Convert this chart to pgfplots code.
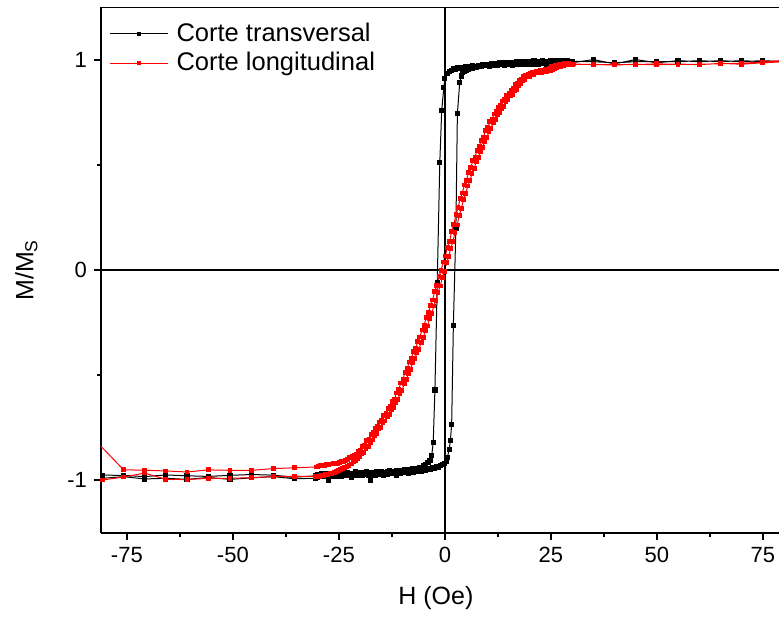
\documentclass[border=0pt]{standalone}
\usepackage{fontspec}
\setmainfont{Liberation Sans}
\usepackage{pgfplots}
\pgfplotsset{compat=1.18}
\begin{document}
\begin{tikzpicture}
\begin{axis}[
  scale only axis, width=339pt, height=263pt,
  xmin=-81.1, xmax=78.8, ymin=-1.25, ymax=1.25,
  axis x line*=bottom, axis y line*=left,
  axis line style={-, line width=1pt, black},
  xtick={-75,-50,-25,0,25,50,75}, minor x tick num=1,
  ytick={-1,0,1}, minor y tick num=1,
  tick align=outside, major tick length=3.5pt, minor tick length=2pt,
  every tick/.style={black, line width=1pt},
  /pgf/number format/assume math mode=true,
  tick label style={font=\fontsize{11}{13}\selectfont},
  xlabel={H (Oe)}, ylabel={M/M\textsubscript{S}},
  label style={font=\fontsize{12.5}{15}\selectfont},
  xlabel style={at={(axis description cs:0.494,-0.124)}, anchor=center},
  ylabel style={at={(axis description cs:-0.11,0.5)}, anchor=center},
  legend style={draw=none, fill=none, at={(axis description cs:0.012,0.978)}, anchor=north west,
    font=\fontsize{12.75}{15}\selectfont, inner sep=0pt, row sep=0pt, column sep=2pt},
  legend cell align=left,
  legend image code/.code={\draw[mark repeat=2,mark phase=2,#1] plot coordinates {(0pt,0pt) (14.5pt,0pt) (29pt,0pt)};},
  legend image post style={mark size=0.8pt},
  unbounded coords=jump,
]
\addplot[black, line width=0.5pt, mark=square*, mark size=1.05pt] coordinates {
(80,0.99) (75,0.995) (70,0.99) (65,0.995) (60,0.99) (55,0.995) (50,0.985) (45,1.0) (40,0.98) (35,1.0) (30,0.985)
(29.5,0.986) (29,0.982) (28.5,0.988) (28,0.984) (27.5,0.979) (27,0.987) (26.5,0.983) (26,0.978) (25.5,0.985) (25,0.981)
(24.5,0.988) (24,0.979) (23.5,0.984) (23,0.980) (22.5,0.986) (22,0.977) (21.5,0.983) (21,0.979) (20.5,0.985) (20,0.976)
(19.5,0.982) (19,0.978) (18.5,0.984) (18,0.975) (17.5,0.981) (17,0.977) (16.5,0.983) (16,0.974) (15.5,0.980) (15,0.976)
(14.5,0.982) (14,0.973) (13.5,0.979) (13,0.975) (12.5,0.971) (12,0.977) (11.5,0.973) (11,0.978) (10.5,0.970) (10,0.975)
(9.5,0.972) (9,0.976) (8.5,0.968) (8,0.973) (7.5,0.969) (7,0.965) (6.5,0.971) (6,0.966) (5.5,0.962) (5,0.967)
(4.5,0.960) (4,0.964) (3.5,0.958) (3,0.961) (2.5,0.955) (2,0.957) (1.5,0.950) (1,0.945) (0.5,0.935) (0,0.912)
(-0.25,0.867) (-0.75,0.757) (-1.2,0.51) (-1.8,-0.06) (-2.35,-0.57) (-2.75,-0.82) (-3.1,-0.88) (-3.5,-0.905)
(-4,-0.915) (-4.5,-0.927) (-5,-0.93) (-5.5,-0.94) (-6,-0.937) (-6.5,-0.945) (-7,-0.948) (-7.5,-0.943) (-8,-0.952) (-8.5,-0.948)
(-9,-0.955) (-9.5,-0.951) (-10,-0.958) (-10.5,-0.953) (-11,-0.96) (-11.5,-0.955) (-12,-0.962) (-12.5,-0.957) (-13,-0.965) (-13.5,-0.959)
(-14,-0.962) (-14.5,-0.968) (-15,-0.96) (-15.5,-0.966) (-16,-0.962) (-16.5,-0.97) (-17,-0.963) (-17.5,-0.968) (-18,-0.964) (-18.5,-0.971)
(-19,-0.965) (-19.5,-0.969) (-20,-0.962) (-20.5,-0.97) (-21,-0.966) (-21.5,-0.972) (-22,-0.967) (-22.5,-0.971) (-23,-0.965) (-23.5,-0.973)
(-24,-0.968) (-24.5,-0.972) (-25,-0.966) (-25.5,-0.974) (-26,-0.969) (-26.5,-0.972) (-27,-0.967) (-27.5,-0.975) (-28,-0.97) (-28.5,-0.973)
(-29,-0.968) (-29.5,-0.975) (-30,-0.971)
(-30.5,-0.978) (-35.5,-0.985) (-40.5,-0.975) (-45.6,-0.972) (-50.7,-0.976) (-55.8,-0.981) (-60.8,-0.978) (-65.8,-0.974) (-70.8,-0.982) (-75.8,-0.976) (-80.7,-0.975)
(-80.7,-0.99) (-75.8,-0.982) (-70.8,-0.993) (-65.8,-0.99) (-60.8,-0.995) (-55.8,-0.986) (-50.7,-0.995) (-45.6,-0.988) (-40.5,-0.982) (-35.5,-0.992) (-30.5,-0.99)
(-30,-0.985) (-29.5,-0.98) (-29,-0.976) (-28.5,-0.982) (-28,-0.978) (-27.5,-1.0) (-27,-0.977) (-26.5,-0.981) (-26,-0.975) (-25.5,-0.979)
(-25,-0.974) (-24.5,-0.98) (-24,-0.976) (-23.5,-0.962) (-23,-0.978) (-22.5,-0.973) (-22,-0.984) (-21.5,-0.974) (-21,-0.96) (-20.5,-0.976)
(-20,-0.971) (-19.5,-0.977) (-19,-0.972) (-18.5,-0.958) (-18,-0.974) (-17.5,-0.999) (-17,-0.97) (-16.5,-0.975) (-16,-0.959) (-15.5,-0.973)
(-15,-0.967) (-14.5,-0.978) (-14,-0.966) (-13.5,-0.97) (-13,-0.954) (-12.5,-0.969) (-12,-0.963) (-11.5,-0.975) (-11,-0.961) (-10.5,-0.966)
(-10,-0.96) (-9.5,-0.964) (-9,-0.958) (-8.5,-0.968) (-8,-0.956) (-7.5,-0.96) (-7,-0.953) (-6.5,-0.957) (-6,-0.951) (-5.5,-0.955)
(-5,-0.948) (-4.5,-0.952) (-4,-0.945) (-3.5,-0.948) (-3,-0.941) (-2.5,-0.943) (-2,-0.936) (-1.5,-0.937) (-1,-0.93) (-0.5,-0.925)
(0,-0.918) (0.3,-0.908) (0.6,-0.89) (1.0,-0.854) (1.3,-0.81) (1.6,-0.733) (2.0,-0.265) (2.6,0.2) (2.95,0.745) (3.5,0.89)
(3.9,0.922) (4.2,0.938) (4.5,0.943) (5,0.95) (5.5,0.955) (6,0.96) (6.5,0.958) (7,0.965) (7.5,0.962) (8,0.97)
(8.5,0.967) (9,0.974) (9.5,0.971) (10,0.977) (10.5,0.974) (11,0.98) (11.5,0.976) (12,0.982) (12.5,0.978) (13,0.984)
(13.5,0.979) (14,0.986) (14.5,0.981) (15,0.987) (15.5,0.983) (16,0.988) (16.5,0.984) (17,0.99) (17.5,0.985) (18,0.991)
(18.5,0.986) (19,0.992) (19.5,0.987) (20,0.99) (20.5,0.985) (21,0.993) (21.5,0.988) (22,0.991) (22.5,0.986) (23,0.994)
(23.5,0.989) (24,0.992) (24.5,0.987) (25,0.995) (25.5,0.99) (26,0.993) (26.5,0.988) (27,0.995) (27.5,0.99) (28,0.993)
(28.5,0.988) (29,0.994) (29.5,0.99) (30,0.992)
(35,0.99) (40,0.985) (45,0.99) (50,0.99) (55,0.99) (60,0.995) (65,0.99) (70,0.995) (75,0.99) (80,0.99)
};
\addlegendentry{Corte transversal}
\addplot[red, line width=0.5pt, mark=square*, mark size=0.95pt] coordinates {
(80,0.99) (75,0.985) (70,0.978) (65,0.982) (60,0.976) (55,0.979) (50,0.975) (45,0.978) (40,0.974) (35,0.977) (30.2,0.978)
(29.1,0.982) (28.6,0.978) (28.1,0.980) (27.6,0.975) (27.1,0.977) (26.6,0.970) (26.1,0.972) (25.6,0.966) (25.1,0.967) (24.6,0.958)
(24.1,0.955) (23.6,0.953) (23.1,0.948) (22.6,0.950) (22.1,0.944) (21.6,0.945) (21.1,0.940) (20.6,0.939) (20.1,0.933) (19.6,0.932)
(19.1,0.924) (18.6,0.920) (18.1,0.908) (17.6,0.903) (17.1,0.888) (16.6,0.880) (16.1,0.862) (15.6,0.855) (15.1,0.838) (14.6,0.830)
(14.1,0.812) (13.6,0.803) (13.1,0.782) (12.6,0.773) (12.1,0.752) (11.6,0.741) (11.1,0.716) (10.6,0.704) (10.1,0.677) (9.6,0.662)
(9.1,0.632) (8.6,0.616) (8.1,0.586) (7.6,0.569) (7.1,0.537) (6.6,0.519) (6.1,0.487) (5.6,0.464) (5.1,0.427) (4.6,0.404)
(4.1,0.366) (3.6,0.339) (3.1,0.296) (2.6,0.263) (2.1,0.216) (1.6,0.183) (1.1,0.137) (0.6,0.108) (0.1,0.067) (-0.4,0.038)
(-0.9,-0.003) (-1.4,-0.032) (-1.9,-0.073) (-2.4,-0.102) (-2.9,-0.143) (-3.4,-0.167) (-3.9,-0.203) (-4.4,-0.227) (-4.9,-0.263) (-5.4,-0.285)
(-5.9,-0.318) (-6.4,-0.339) (-6.9,-0.373) (-7.4,-0.389) (-7.9,-0.418) (-8.4,-0.437) (-8.9,-0.468) (-9.4,-0.487) (-9.9,-0.518) (-10.4,-0.537)
(-10.9,-0.568) (-11.4,-0.585) (-11.9,-0.613) (-12.4,-0.625) (-12.9,-0.648) (-13.4,-0.659) (-13.9,-0.683) (-14.4,-0.692) (-14.9,-0.713) (-15.4,-0.722)
(-15.9,-0.743) (-16.4,-0.752) (-16.9,-0.773) (-17.4,-0.782) (-17.9,-0.803) (-18.4,-0.812) (-18.9,-0.832) (-19.4,-0.840) (-19.9,-0.856) (-20.4,-0.862)
(-20.9,-0.875) (-21.4,-0.880) (-21.9,-0.888) (-22.4,-0.893) (-22.9,-0.900) (-23.4,-0.904) (-23.9,-0.909) (-24.4,-0.912) (-24.9,-0.915) (-25.4,-0.918)
(-25.9,-0.917) (-26.4,-0.921) (-26.9,-0.922) (-27.4,-0.925) (-27.9,-0.924) (-28.4,-0.928) (-28.9,-0.929) (-29.4,-0.931) (-29.9,-0.933) (-30.4,-0.936)
(-35.5,-0.94) (-40.5,-0.944) (-45.6,-0.952) (-50.7,-0.952) (-55.8,-0.95) (-60.8,-0.96) (-65.8,-0.955) (-70.8,-0.952) (-75.8,-0.949) (-81.5,-0.83)
(-81.5,nan)
(-80.7,-0.998) (-75.8,-0.984) (-70.8,-0.965) (-65.8,-0.995) (-60.8,-0.996) (-55.8,-0.99) (-50.7,-0.99) (-45.6,-0.987) (-40.5,-0.982) (-35.5,-0.98) (-30.5,-0.981)
(-29.6,-0.980) (-29.1,-0.977) (-28.6,-0.978) (-28.1,-0.973) (-27.6,-0.972) (-27.1,-0.968) (-26.6,-0.967) (-26.1,-0.961) (-25.6,-0.958) (-25.1,-0.953)
(-24.6,-0.950) (-24.1,-0.944) (-23.6,-0.940) (-23.1,-0.935) (-22.6,-0.928) (-22.1,-0.922) (-21.6,-0.912) (-21.1,-0.906) (-20.6,-0.894) (-20.1,-0.888)
(-19.6,-0.873) (-19.1,-0.866) (-18.6,-0.848) (-18.1,-0.838) (-17.6,-0.818) (-17.1,-0.808) (-16.6,-0.787) (-16.1,-0.778) (-15.6,-0.756) (-15.1,-0.748)
(-14.6,-0.726) (-14.1,-0.718) (-13.6,-0.696) (-13.1,-0.686) (-12.6,-0.663) (-12.1,-0.652) (-11.6,-0.629) (-11.1,-0.616) (-10.6,-0.589) (-10.1,-0.572)
(-9.6,-0.541) (-9.1,-0.521) (-8.6,-0.491) (-8.1,-0.471) (-7.6,-0.441) (-7.1,-0.421) (-6.6,-0.393) (-6.1,-0.376) (-5.6,-0.343) (-5.1,-0.321)
(-4.6,-0.289) (-4.1,-0.266) (-3.6,-0.231) (-3.1,-0.206) (-2.6,-0.171) (-2.1,-0.146) (-1.6,-0.106) (-1.1,-0.076) (-0.6,-0.036) (-0.1,-0.006)
(0.4,0.034) (0.9,0.064) (1.4,0.104) (1.9,0.134) (2.4,0.179) (2.9,0.214) (3.4,0.259) (3.9,0.294) (4.4,0.334) (4.9,0.364)
(5.4,0.399) (5.9,0.424) (6.4,0.459) (6.9,0.484) (7.4,0.514) (7.9,0.534) (8.4,0.564) (8.9,0.584) (9.4,0.611) (9.9,0.629)
(10.4,0.657) (10.9,0.674) (11.4,0.699) (11.9,0.714) (12.4,0.737) (12.9,0.749) (13.4,0.769) (13.9,0.779) (14.4,0.799) (14.9,0.809)
(15.4,0.827) (15.9,0.834) (16.4,0.851) (16.9,0.859) (17.4,0.877) (17.9,0.884) (18.4,0.899) (18.9,0.904) (19.4,0.917) (19.9,0.920)
(20.4,0.929) (20.9,0.930) (21.4,0.937) (21.9,0.936) (22.4,0.941) (22.9,0.940) (23.4,0.944) (23.9,0.945) (24.4,0.949) (24.9,0.948)
(25.4,0.954) (25.9,0.957) (26.4,0.964) (26.9,0.966) (27.4,0.969) (27.9,0.970) (28.4,0.974) (28.9,0.974) (29.4,0.977) (29.9,0.976)
(30.4,0.979)
(35,0.976) (40,0.976) (45,0.976) (50,0.98) (55,0.977) (60,0.978) (65,0.98) (70,0.983) (75,0.988) (80,0.997)
};
\addlegendentry{Corte longitudinal}
\draw[black, line width=1pt] (axis cs:0,-1.25) -- (axis cs:0,1.25);
\draw[black, line width=1pt] (axis cs:-81.1,0) -- (axis cs:78.8,0);
\draw[black, line width=1pt] (rel axis cs:0,1) -- (rel axis cs:1,1);
\coordinate (sw) at (rel axis cs:0,0);
\coordinate (ne) at (rel axis cs:1,1);
\end{axis}
\pgfresetboundingbox
\path[use as bounding box] ([xshift=-50.5pt,yshift=-41.5pt]sw) rectangle ([yshift=3.5pt]ne);
\end{tikzpicture}
\end{document}
